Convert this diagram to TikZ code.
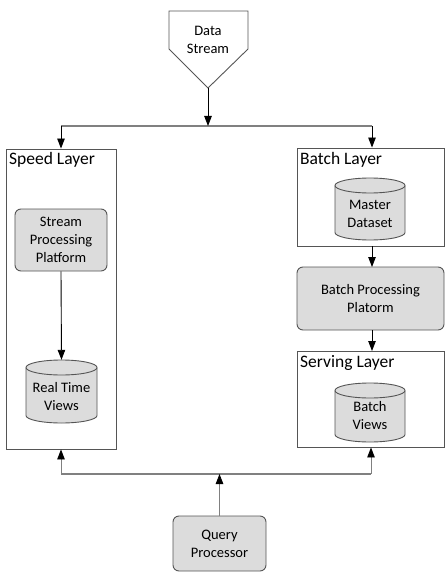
\documentclass[tikz,border=0pt]{standalone}
\usepackage{fontspec}
\setmainfont{Carlito}
\usetikzlibrary{arrows.meta}
\definecolor{boxfill}{HTML}{DCDCDC}
\definecolor{edge}{HTML}{555555}
\definecolor{busline}{HTML}{808080}
\newcommand{\drawcyl}[4]{% cx, cy, w, h
  \filldraw[cylstyle] ({#1-#3/2},{#2-#4/2+7.5}) -- ({#1-#3/2},{#2+#4/2-7.5})
    arc[start angle=180,end angle=0,x radius={#3/2},y radius=7.5]
    -- ({#1+#3/2},{#2-#4/2+7.5})
    arc[start angle=0,end angle=-180,x radius={#3/2},y radius=7.5] -- cycle;
  \draw[cylstyle,fill=none] ({#1-#3/2},{#2-#4/2+7.5})
    arc[start angle=180,end angle=0,x radius={#3/2},y radius=7.5];
}
\begin{document}
\begin{tikzpicture}[x=1bp,y=-1bp,
  cylstyle/.style={draw=edge,fill=boxfill,line width=0.9bp},
  txt/.style={font=\fontsize{14.5bp}{18bp}\selectfont,align=center,inner sep=0pt},
  head/.style={font=\fontsize{17.5bp}{21bp}\selectfont,anchor=north west,inner sep=0pt},
  layer/.style={draw=edge,fill=white,line width=0.9bp,inner sep=0pt},
  procbox/.style={draw=edge,fill=boxfill,rounded corners=6bp,line width=0.9bp,inner sep=0pt,
    font=\fontsize{14.5bp}{18bp}\selectfont,align=center},
  arr/.style={-{Triangle[length=10bp,width=7.5bp,color=black]},line width=0.9bp},
  bus/.style={draw=busline,line width=1.2bp}]
\useasboundingbox (0,0) rectangle (448,576);
% Data stream
\draw[edge,line width=0.9bp] (169,11) -- (248,11) -- (248,49) -- (208,88) -- (169,49) -- cycle;
\node[txt] (ds) at (208,40) {Data\\Stream};
\coordinate (dstip) at (208,88);
% Layer containers
\node[layer,minimum width=110bp,minimum height=300bp] (speed) at (61,299) {};
\node[head] (speedh) at (9,152) {Speed Layer};
\node[layer,minimum width=147bp,minimum height=98bp] (batch) at (370.5,197) {};
\node[head] (batchh) at (300,152) {Batch Layer};
\node[layer,minimum width=147bp,minimum height=96bp] (serving) at (370.5,399) {};
\node[head] (servingh) at (300,355) {Serving Layer};
% Processing boxes
\node[procbox,minimum width=92bp,minimum height=62bp] (spp) at (61,240) {Stream\\Processing\\Platform};
\node[procbox,minimum width=147bp,minimum height=63bp] (bpp) at (370.5,298.5) {Batch Processing\\Platorm};
\node[procbox,minimum width=93bp,minimum height=55bp] (qp) at (219.5,543.5) {Query\\Processor};
% Cylinders
\drawcyl{61.5}{391.5}{71}{63}
\node[txt,minimum width=71bp,minimum height=63bp] (rtv) at (61.5,391.5) {};
\node[txt] (rtvt) at (61.5,397) {Real Time\\Views};
\drawcyl{370}{209}{70}{62}
\node[txt,minimum width=70bp,minimum height=62bp] (md) at (370,209) {};
\node[txt] (mdt) at (370,214) {Master\\Dataset};
\drawcyl{370}{412.5}{70}{59}
\node[txt,minimum width=70bp,minimum height=59bp] (bv) at (370,412.5) {};
\node[txt] (bvt) at (370,416) {Batch\\Views};
% Top distribution
\coordinate (topbus) at (208,126);
\coordinate (tl) at (61,126);
\coordinate (tr) at (372,126);
\draw[bus] (tl) -- (tr);
\draw[arr] (dstip) -- (topbus);
\draw[arr] (tl) -- (tl |- speed.north);
\draw[arr] (tr) -- (tr |- batch.north);
% Inner arrows
\draw[arr] (spp.south) -- (rtv.north);
\draw[arr] (372,246) -- (372,267);
\draw[arr] (372,330) -- (372,351);
% Bottom
\coordinate (bl) at (61,474);
\coordinate (br) at (371,474);
\coordinate (bm) at (219.5,474);
\draw[bus] (bl) -- (br);
\draw[arr,busline] (qp.north) -- (bm);
\draw[arr,busline] (bl) -- (bl |- speed.south);
\draw[arr,busline] (br) -- (br |- serving.south);
\end{tikzpicture}
\end{document}
